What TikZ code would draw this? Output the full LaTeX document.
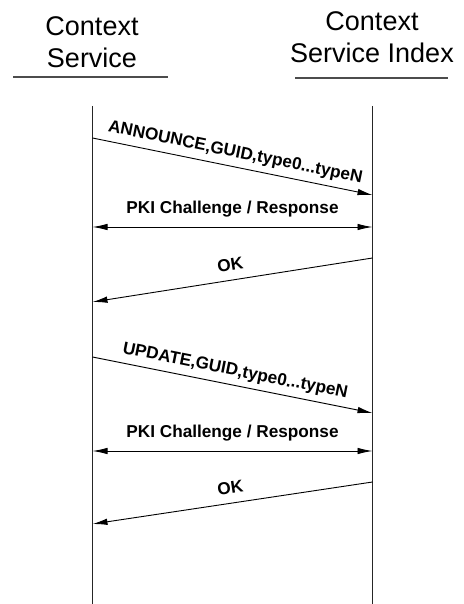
\documentclass[tikz,border=0pt]{standalone}
\usepackage{fontspec}
\setmainfont{Liberation Sans}
\usetikzlibrary{arrows.meta,positioning}

\begin{document}
\begin{tikzpicture}[x=1pt,y=1pt,
    >={Latex[length=15pt,width=6.5pt]},
    every node/.style={inner sep=0pt},
    actor/.style={align=center,anchor=south,font=\fontsize{27}{32}\selectfont},
    lifeline/.style={line width=1.1pt,black!85},
    rule/.style={line width=1.3pt,black!70},
    msg/.style={line width=0.9pt}]

\useasboundingbox (0,0) rectangle (463,604);
\tikzset{lbl/.style={font=\fontsize{17.2}{19}\selectfont\bfseries,text depth=0pt,sloped}}

% Actors
\node[  actor
    ] (cs) at (92,536) {Context\\Service};
\node[  actor
    ] (csi) at (372,541) {Context\\Service Index};
\draw[rule] (13,527) -- (168,527);
\draw[rule] (295,526) -- (448,526);

% Lifelines
\coordinate (cs top) at (92.5,498);
\coordinate (cs end) at (92.5,0);
\coordinate (csi top) at (372.5,498);
\coordinate (csi end) at (372.5,0);
\draw[lifeline] (cs top) -- (cs end);
\draw[lifeline] (csi top) -- (csi end);

% Message points
\coordinate (cs1) at (92.5,466);
\coordinate (csi1) at (372.5,409);
\coordinate (cs2) at (92.5,377);
\coordinate (csi2) at (372.5,377);
\coordinate (csi3) at (372.5,346);
\coordinate (cs3) at (92.5,302);
\coordinate (cs4) at (92.5,247);
\coordinate (csi4) at (372.5,191);
\coordinate (cs5) at (92.5,153);
\coordinate (csi5) at (372.5,153);
\coordinate (csi6) at (372.5,122);
\coordinate (cs6) at (92.5,80);

% Messages
\draw[msg,->] (cs1) -- node[lbl,above=9pt] (announce) {ANNOUNCE,GUID,type0...typeN} (csi1);
\draw[msg,<->] (cs2) -- node[lbl,above=13pt] (pki1) {PKI Challenge / Response} (csi2);
\draw[msg,->] (csi3) -- node[lbl,above=9pt] (ok1) {OK} (cs3);
\draw[msg,->] (cs4) -- node[lbl,above=9pt] (update) {UPDATE,GUID,type0...typeN} (csi4);
\draw[msg,<->] (cs5) -- node[lbl,above=13pt] (pki2) {PKI Challenge / Response} (csi5);
\draw[msg,->] (csi6) -- node[lbl,above=9pt] (ok2) {OK} (cs6);

\end{tikzpicture}
\end{document}
